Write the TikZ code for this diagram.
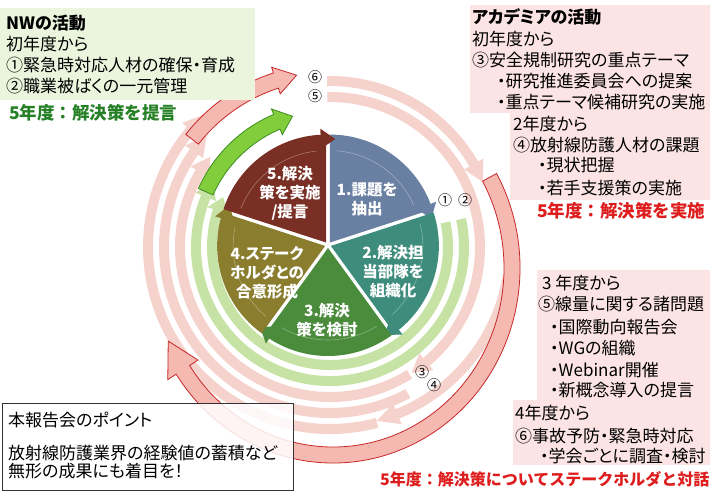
\documentclass[tikz,border=0pt]{standalone}
\usepackage{fontspec}
\setmainfont{Noto Sans CJK JP}[RawFeature=+palt]
\newfontfamily\widejp{Noto Sans CJK JP}
\usetikzlibrary{calc}
\definecolor{nwfill}{RGB}{235,245,222}
\definecolor{acfill}{RGB}{252,228,228}
\definecolor{nwtext}{RGB}{38,128,38}
\definecolor{actext}{RGB}{222,30,30}
\definecolor{ringgreen}{RGB}{198,226,165}
\definecolor{ringpink}{RGB}{246,210,205}
\definecolor{secA}{RGB}{106,128,163}
\definecolor{secB}{RGB}{62,140,124}
\definecolor{secC}{RGB}{74,140,60}
\definecolor{secD}{RGB}{138,125,46}
\definecolor{secE}{RGB}{122,47,37}
% band along a circle, clockwise from #3 to #4, arrow head at #4
\newcommand\ringarrow[6]{\filldraw[#1] ($(#2)+(#3:{#5+#6})$) arc[start angle=#3,end angle=#4,radius={#5+#6}] -- ($(#2)+(#4:{#5+#6+6})$) -- ($(#2)+({#4-7}:#5)$) -- ($(#2)+(#4:{#5-#6-6})$) -- ($(#2)+(#4:{#5-#6})$) arc[start angle=#4,end angle=#3,radius={#5-#6}] -- cycle;}

\begin{document}
\begin{tikzpicture}[x=1pt,y=1pt]
\tikzstyle{t}=[anchor=base west,inner sep=0,font=\fontsize{17}{20}\selectfont]
\tikzstyle{tb}=[t,font=\fontsize{17}{20}\selectfont\bfseries]
\tikzstyle{goal}=[t,font=\fontsize{17.5}{20}\selectfont\widejp\bfseries]
\tikzstyle{num}=[inner sep=0,font=\fontsize{14}{16}\selectfont]
\tikzstyle{lab}=[align=center,text=white,inner sep=0,font=\fontsize{15.5}{19}\selectfont\bfseries]
\tikzstyle{gband}=[fill=ringgreen,draw=none]
\tikzstyle{pband}=[fill=ringpink,draw=none]
\tikzstyle{green3d}=[fill={rgb,255:red,130;green,205;blue,60},draw={rgb,255:red,60;green,140;blue,30},line width=.8]
\tikzstyle{pink3d}=[fill={rgb,255:red,245;green,185;blue,178},draw={rgb,255:red,200;green,40;blue,40},line width=.8]
\useasboundingbox (0,0) rectangle (710,491);
\coordinate (O) at (330,244);
\coordinate (P) at (328,246);
\coordinate (R) at (333,223);

% academia rings
\ringarrow{pband}{O}{91}{-50}{150}{5}
\ringarrow{pband}{O}{91}{30}{166}{5}
\ringarrow{pband}{O}{-10}{-68}{180}{5}
\ringarrow{pband}{O}{-58}{-210}{150}{5}
\ringarrow{pband}{O}{-62}{-215}{166}{5}
\ringarrow{pband}{O}{-75}{-220}{182}{5}
% NW rings
\ringarrow{gband}{O}{12}{-198}{118}{5}
\ringarrow{gband}{O}{12}{-202}{134}{5}

% pie
\foreach \a/\c in {90/secA,18/secB,-54/secC,-126/secD,-198/secE} {
  \fill[\c] ($(P)+(\a-36:3)$) -- ++(\a:108) arc[start angle=\a,end angle=\a-72,radius=108] -- cycle;
  \fill[\c] ($(P)+(\a-36:3)+(\a-69:114)$) -- ($(P)+(\a-36:3)+(\a-77:104)$) -- ($(P)+(\a-36:3)+(\a-69:94)$) -- cycle;
  \draw[white,opacity=.35,line width=.6] ($(P)+(\a-36:3)+(\a-4:92)$) arc[start angle=\a-4,end angle=\a-66,radius=92];
}
\node[lab] (s1) at (367,292) {1.課題を\\抽出};
\node[lab] (s2) at (393,219) {2.解決担\\当部隊を\\組織化};
\node[lab] (s3) at (327,171) {3.解決\\策を検討};
\node[lab] (s4) at (267,218) {4.ステーク\\ホルダとの\\合意形成};
\node[lab] (s5) at (290,298) {5.解決\\策を実施\\/提言};

% 5th year arrows
\ringarrow{green3d}{O}{156}{113}{136}{8}
\ringarrow{pink3d}{O}{142}{108}{175}{8}
\filldraw[pink3d] ($(R)+(29:187 and 195)$) arc[start angle=29,end angle=-147,x radius=187,y radius=195] -- ($(R)+(-147:197 and 205)$) -- ($(R)+(-157:179 and 187)$) -- ($(R)+(-147:161 and 169)$) -- ($(R)+(-147:171 and 179)$) arc[start angle=-147,end angle=29,x radius=171,y radius=179] -- cycle;

\node[num] (n6) at (315,414) {⑥};
\node[num] (n5) at (315,395) {⑤};
\node[num] (n1) at (445,291) {①};
\node[num] (n2) at (465,291) {②};
\node[num] (n3) at (422,119) {③};
\node[num] (n4) at (434,106) {④};

% NW box
\fill[nwfill] (0,391) rectangle (255,483);
\node[tb] (nwhead) at (6,461) {NWの活動};
\foreach \y/\s [count=\i] in {51/初年度から,72/①緊急時対応人材の確保・育成,93/②職業被ばくの一元管理}
  \node[t] (nw\i) at (6,{491-\y}) {\s};
\node[goal,text=nwtext] (nwgoal) at (9,371) {5年度：解決策を提言};

% academia boxes
\fill[acfill] (470,486) rectangle (710,378);
\fill[acfill] (510,378) rectangle (710,291);
\fill[acfill] (537,221) rectangle (710,91);
\fill[acfill] (513,91) rectangle (710,26);
\node[tb] (achead) at (472,467) {アカデミアの活動};
\foreach \y/\x/\s [count=\i] in {46/472/初年度から,67/472/③安全規制研究の重点テーマ,88/497/・研究推進委員会への提案,109/497/・重点テーマ候補研究の実施,
  131/513/2年度から,152/513/④放射線防護人材の課題,172/538/・現状把握,194/538/・若手支援策の実施,
  289/542/3 年度から,310/538/⑤線量に関する諸問題,333/550/・国際動向報告会,354/550/・WGの組織,376/550/・Webinar開催,396/550/・新概念導入の提言,
  419/515/4年度から,442/515/⑥事故予防・緊急時対応,462/540/・学会ごとに調査・検討}
  \node[t] (ac\i) at (\x,{491-\y}) {\s};
\node[goal,text=actext] (acgoal1) at (537,273) {5年度：解決策を実施};
\node[goal,text=actext,font=\fontsize{16}{20}\selectfont\widejp\bfseries] (acgoal2) at (380,6) {5年度：解決策についてステークホルダと対話};

% point box
\filldraw[fill=white,fill opacity=.85,draw=black!80] (2,88) rectangle (293,1);
\foreach \y/\s [count=\i] in {426/本報告会のポイント,459/放射線防護業界の経験値の蓄積など,477/無形の成果にも着目を！}
  \node[t] (pt\i) at (8,{491-\y}) {\s};
\end{tikzpicture}
\end{document}
